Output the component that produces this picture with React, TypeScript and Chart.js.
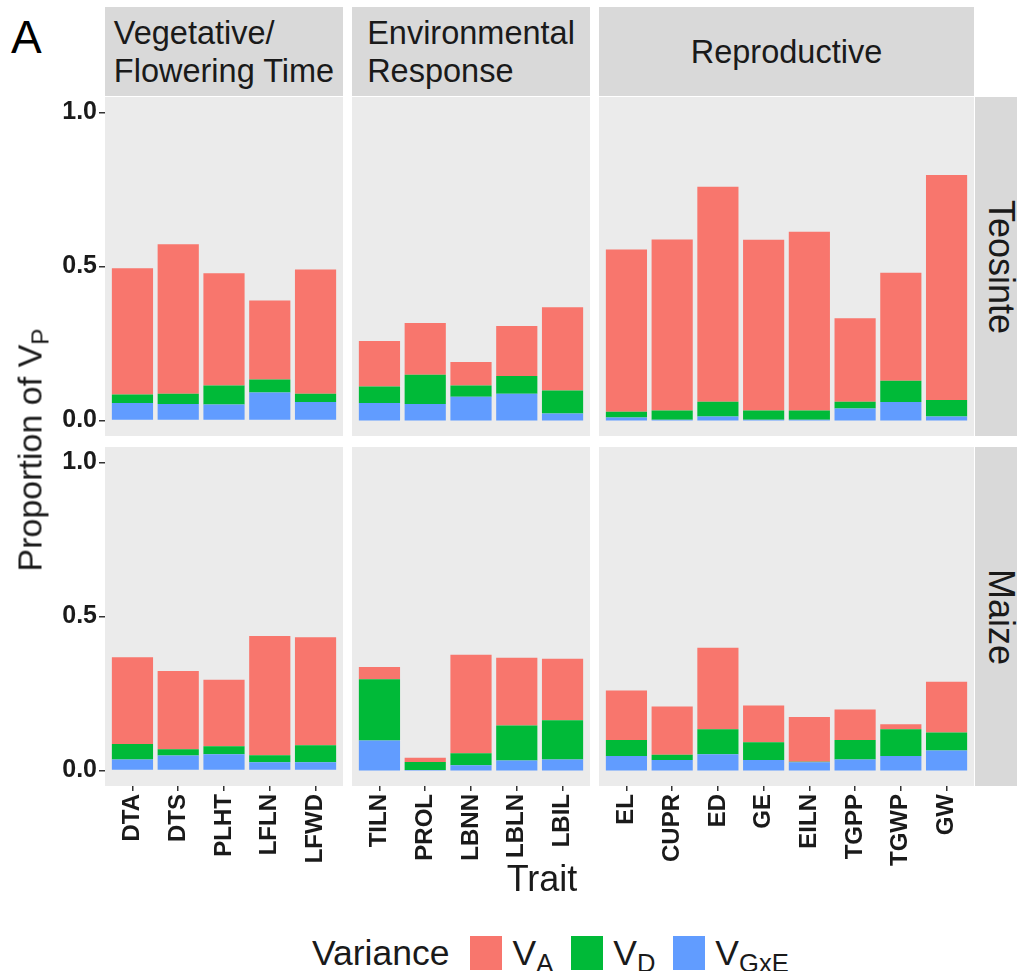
import React, { useEffect, useRef } from "react";
import { Chart, registerables } from "chart.js";

Chart.register(...registerables);

// ---------- data ----------
const groupNames = ["Vegetative/\nFlowering Time", "Environmental\nResponse", "Reproductive"];
const rowNames = ["Teosinte", "Maize"];

const traitsVeg = ["DTA", "DTS", "PLHT", "LFLN", "LFWD"];
const traitsEnv = ["TILN", "PROL", "LBNN", "LBLN", "LBIL"];
const traitsRep = ["EL", "CUPR", "ED", "GE", "EILN", "TGPP", "TGWP", "GW"];

// Teosinte
const teoVegGxE = [0.057, 0.054, 0.052, 0.091, 0.06];
const teoVegD = [0.028, 0.033, 0.062, 0.042, 0.027];
const teoVegA = [0.409, 0.485, 0.364, 0.257, 0.403];

const teoEnvGxE = [0.057, 0.054, 0.077, 0.087, 0.023];
const teoEnvD = [0.054, 0.095, 0.037, 0.058, 0.075];
const teoEnvA = [0.147, 0.168, 0.076, 0.162, 0.27];

const teoRepGxE = [0.01, 0.003, 0.013, 0.003, 0.003, 0.039, 0.06, 0.013];
const teoRepD = [0.019, 0.03, 0.048, 0.03, 0.03, 0.022, 0.069, 0.054];
const teoRepA = [0.526, 0.555, 0.698, 0.554, 0.58, 0.271, 0.351, 0.73];

// Maize
const maiVegGxE = [0.036, 0.049, 0.053, 0.027, 0.027];
const maiVegD = [0.05, 0.02, 0.026, 0.023, 0.055];
const maiVegA = [0.282, 0.254, 0.216, 0.387, 0.351];

const maiEnvGxE = [0.098, 0.002, 0.017, 0.033, 0.036];
const maiEnvD = [0.198, 0.026, 0.039, 0.113, 0.127];
const maiEnvA = [0.04, 0.014, 0.32, 0.22, 0.2];

const maiRepGxE = [0.047, 0.034, 0.053, 0.034, 0.027, 0.036, 0.047, 0.065];
const maiRepD = [0.052, 0.017, 0.081, 0.058, 0.002, 0.063, 0.087, 0.059];
const maiRepA = [0.161, 0.157, 0.265, 0.119, 0.145, 0.099, 0.016, 0.164];

const yTicks = [0, 0.5, 1.0];

// ---------- style ----------
const FONT = "'Liberation Sans', Arial, Helvetica, sans-serif";
const COL_A = "#F8766D";
const COL_D = "#00BA38";
const COL_G = "#619CFF";
const PANEL_BG = "#EBEBEB";
const STRIP_BG = "#D9D9D9";
const TEXT = "#1A1A1A";

const COL_X = [105, 352, 599];
const COL_W = [238, 238, 375];
const ROW_Y = [97, 447];
const ROW_H = 339;
const AXIS_L = 60;
const AXIS_B = 95;

const bgPlugin = {
  id: "panelBg",
  beforeDraw(chart: any) {
    const { ctx, chartArea } = chart;
    ctx.save();
    ctx.fillStyle = PANEL_BG;
    ctx.fillRect(chartArea.left, chartArea.top, chartArea.right - chartArea.left, chartArea.bottom - chartArea.top);
    ctx.restore();
  },
};

type PanelProps = {
  left: number;
  top: number;
  width: number;
  height: number;
  showY: boolean;
  showX: boolean;
  labels: string[];
  gxe: number[];
  d: number[];
  a: number[];
};

function Panel({ left, top, width, height, showY, showX, labels, gxe, d, a }: PanelProps) {
  const ref = useRef<HTMLCanvasElement>(null);
  const axL = showY ? AXIS_L : 0;
  const axB = showX ? AXIS_B : 0;

  useEffect(() => {
    if (!ref.current) return;
    const n = labels.length;
    const mk = (vals: number[]) => labels.map((_, i) => ({ x: i + 1, y: vals[i] }));
    const chart = new Chart(ref.current, {
      type: "bar",
      data: {
        datasets: [
          { label: "VGxE", data: mk(gxe), backgroundColor: COL_G },
          { label: "VD", data: mk(d), backgroundColor: COL_D },
          { label: "VA", data: mk(a), backgroundColor: COL_A },
        ] as any,
      },
      options: {
        animation: false,
        responsive: false,
        devicePixelRatio: 1,
        layout: { padding: 0 },
        events: [],
        plugins: { legend: { display: false }, tooltip: { enabled: false } },
        datasets: { bar: { barPercentage: 0.9, categoryPercentage: 1, borderWidth: 0 } } as any,
        scales: {
          x: {
            type: "linear",
            stacked: true,
            offset: false,
            min: 0.4,
            max: n + 0.6,
            display: showX,
            afterBuildTicks: (s: any) => {
              s.ticks = labels.map((_, i) => ({ value: i + 1 }));
            },
            afterFit: (s: any) => {
              s.height = axB;
              s.paddingLeft = 0;
              s.paddingRight = 0;
              s.paddingTop = 0;
              s.paddingBottom = 0;
            },
            ticks: {
              autoSkip: false,
              minRotation: 90,
              maxRotation: 90,
              padding: 3,
              color: TEXT,
              font: { family: FONT, size: 24, weight: "bold" },
              callback: (v: any) => labels[Math.round(Number(v)) - 1] ?? "",
            },
            grid: {
              offset: false,
              drawOnChartArea: false,
              drawTicks: true,
              tickLength: 5,
              color: "#333333",
              lineWidth: 1.5,
            },
            border: { display: false },
          },
          y: {
            type: "linear",
            stacked: true,
            min: -0.05,
            max: 1.05,
            display: showY,
            afterBuildTicks: (s: any) => {
              s.ticks = yTicks.map((v) => ({ value: v }));
            },
            afterFit: (s: any) => {
              s.width = axL;
              s.paddingLeft = 0;
              s.paddingRight = 0;
              s.paddingTop = 0;
              s.paddingBottom = 0;
            },
            ticks: {
              padding: 2,
              color: TEXT,
              font: { family: FONT, size: 25, weight: "bold" },
              callback: (v: any) => Number(v).toFixed(1),
            },
            grid: { drawOnChartArea: false, drawTicks: true, tickLength: 6, color: "#333333", lineWidth: 1.5 },
            border: { display: false },
          },
        },
      } as any,
      plugins: [bgPlugin],
    });
    return () => chart.destroy();
  }, []);

  return (
    <canvas
      ref={ref}
      width={width + axL}
      height={height + axB}
      style={{ position: "absolute", left: left - axL, top, width: width + axL, height: height + axB }}
    />
  );
}

const panelData = [
  [
    { labels: traitsVeg, gxe: teoVegGxE, d: teoVegD, a: teoVegA },
    { labels: traitsEnv, gxe: teoEnvGxE, d: teoEnvD, a: teoEnvA },
    { labels: traitsRep, gxe: teoRepGxE, d: teoRepD, a: teoRepA },
  ],
  [
    { labels: traitsVeg, gxe: maiVegGxE, d: maiVegD, a: maiVegA },
    { labels: traitsEnv, gxe: maiEnvGxE, d: maiEnvD, a: maiEnvA },
    { labels: traitsRep, gxe: maiRepGxE, d: maiRepD, a: maiRepA },
  ],
];

function Sub({ main, sub }: { main: string; sub: string }) {
  return (
    <span>
      {main}
      <span style={{ fontSize: "72%", position: "relative", top: "0.28em" }}>{sub}</span>
    </span>
  );
}

export default function App() {
  return (
    <div
      style={{
        position: "absolute",
        left: 0,
        top: 0,
        width: 1017,
        height: 971,
        overflow: "hidden",
        background: "#FFFFFF",
        fontFamily: FONT,
        color: TEXT,
      }}
    >
      {/* panel letter */}
      <div style={{ position: "absolute", left: 11, top: 12, fontSize: 46, lineHeight: "50px", color: "#000" }}>A</div>

      {/* top strips */}
      {groupNames.map((g, ci) => (
        <div
          key={g}
          style={{
            position: "absolute",
            left: COL_X[ci],
            top: 7,
            width: COL_W[ci],
            height: 89,
            background: STRIP_BG,
            display: "flex",
            alignItems: "center",
            justifyContent: "center",
          }}
        >
          <div style={{ fontSize: 32.5, lineHeight: "38px", whiteSpace: "pre", textAlign: "left" }}>{g}</div>
        </div>
      ))}

      {/* right strips */}
      {rowNames.map((r, ri) => (
        <div
          key={r}
          style={{
            position: "absolute",
            left: 975,
            top: ROW_Y[ri],
            width: 52,
            height: ROW_H,
            background: STRIP_BG,
          }}
        >
          <div
            style={{
              position: "absolute",
              left: "50%",
              top: "50%",
              transform: "translate(-50%, -50%) rotate(90deg)",
              fontSize: 36,
              whiteSpace: "nowrap",
            }}
          >
            {r}
          </div>
        </div>
      ))}

      {/* panels */}
      {panelData.map((row, ri) =>
        row.map((p, ci) => (
          <Panel
            key={`${ri}-${ci}`}
            left={COL_X[ci]}
            top={ROW_Y[ri]}
            width={COL_W[ci]}
            height={ROW_H}
            showY={ci === 0}
            showX={ri === 1}
            labels={p.labels}
            gxe={p.gxe}
            d={p.d}
            a={p.a}
          />
        ))
      )}

      {/* y title */}
      <div
        style={{
          position: "absolute",
          left: 30,
          top: 450,
          transform: "translate(-50%, -50%) rotate(-90deg)",
          fontSize: 34,
          whiteSpace: "nowrap",
        }}
      >
        Proportion of <Sub main="V" sub="P" />
      </div>

      {/* x title */}
      <div style={{ position: "absolute", left: 442, top: 858, width: 200, textAlign: "center", fontSize: 36 }}>Trait</div>

      {/* legend */}
      <div
        style={{
          position: "absolute",
          left: 312,
          top: 934,
          height: 38,
          display: "flex",
          alignItems: "center",
          fontSize: 35.5,
          whiteSpace: "nowrap",
        }}
      >
        <span style={{ marginRight: 21 }}>Variance</span>
        <span style={{ width: 32, height: 34, background: COL_A, display: "inline-block", marginRight: 10 }} />
        <span style={{ marginRight: 18 }}>
          <Sub main="V" sub="A" />
        </span>
        <span style={{ width: 32, height: 34, background: COL_D, display: "inline-block", marginRight: 10 }} />
        <span style={{ marginRight: 18 }}>
          <Sub main="V" sub="D" />
        </span>
        <span style={{ width: 32, height: 34, background: COL_G, display: "inline-block", marginRight: 10 }} />
        <span>
          <Sub main="V" sub="GxE" />
        </span>
      </div>
    </div>
  );
}
